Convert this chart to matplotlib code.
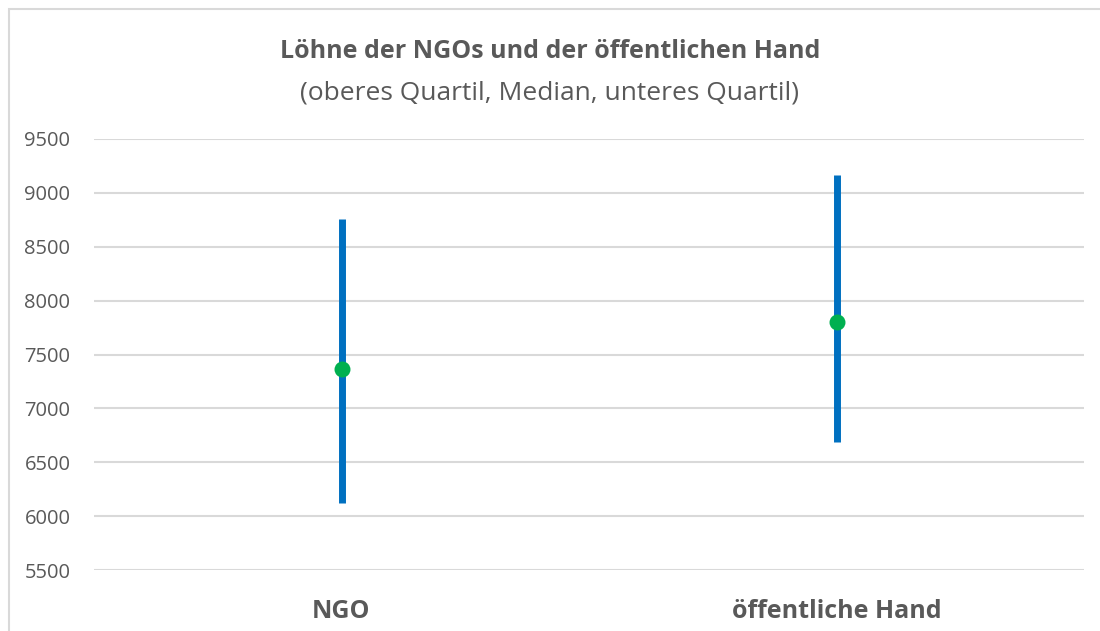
import numpy as np
import matplotlib.pyplot as plt
from matplotlib.patches import Rectangle

# data
categories = ['NGO', 'öffentliche Hand']
upper_quartile = [8760, 9165]
median = [7365, 7800]
lower_quartile = [6120, 6690]
y_ticks = [5500, 6000, 6500, 7000, 7500, 8000, 8500, 9000, 9500]

plt.rcParams['font.family'] = ['Open Sans', 'DejaVu Sans']
text_grey = '#595959'

fig = plt.figure(figsize=(11, 6.31), dpi=100)
ax = fig.add_axes([94/1100, 1 - 570/631, (1084 - 94)/1100, (570 - 139)/631])

# chart border (Excel style frame, cut at right/bottom)
fig.patches.append(Rectangle((9/1100, -0.05), 1.1, 1 - 9.5/631 + 0.05,
                             transform=fig.transFigure, fill=False,
                             edgecolor='#D9D9D9', lw=1.5, zorder=0))

x = np.arange(len(categories))
ax.vlines(x, lower_quartile, upper_quartile, color='#0070C0', lw=5, zorder=3)
ax.plot(x, median, 'o', color='#00B050', markersize=11.5, zorder=4,
        markeredgewidth=0)

ax.set_xlim(-0.5, len(categories) - 0.5)
ax.set_ylim(5500, 9500)
ax.set_yticks(y_ticks)
ax.set_yticklabels([str(t) for t in y_ticks])
ax.set_xticks(x)
ax.set_xticklabels(categories, fontsize=18, fontweight='bold', color=text_grey)
ax.tick_params(axis='x', length=0, pad=21)
ax.tick_params(axis='y', length=0, pad=17, labelsize=14.5, labelcolor=text_grey)

ax.grid(axis='y', color='#D9D9D9', lw=1.5)
ax.set_axisbelow(True)
for s in ax.spines.values():
    s.set_visible(False)

fig.text(0.5, 1 - 51/631, 'Löhne der NGOs und der öffentlichen Hand',
         ha='center', va='center', fontsize=18, fontweight='bold', color=text_grey)
fig.text(0.5, 1 - 93/631, '(oberes Quartil, Median, unteres Quartil)',
         ha='center', va='center', fontsize=19, color=text_grey)

fig.savefig('out.png', dpi=100)
